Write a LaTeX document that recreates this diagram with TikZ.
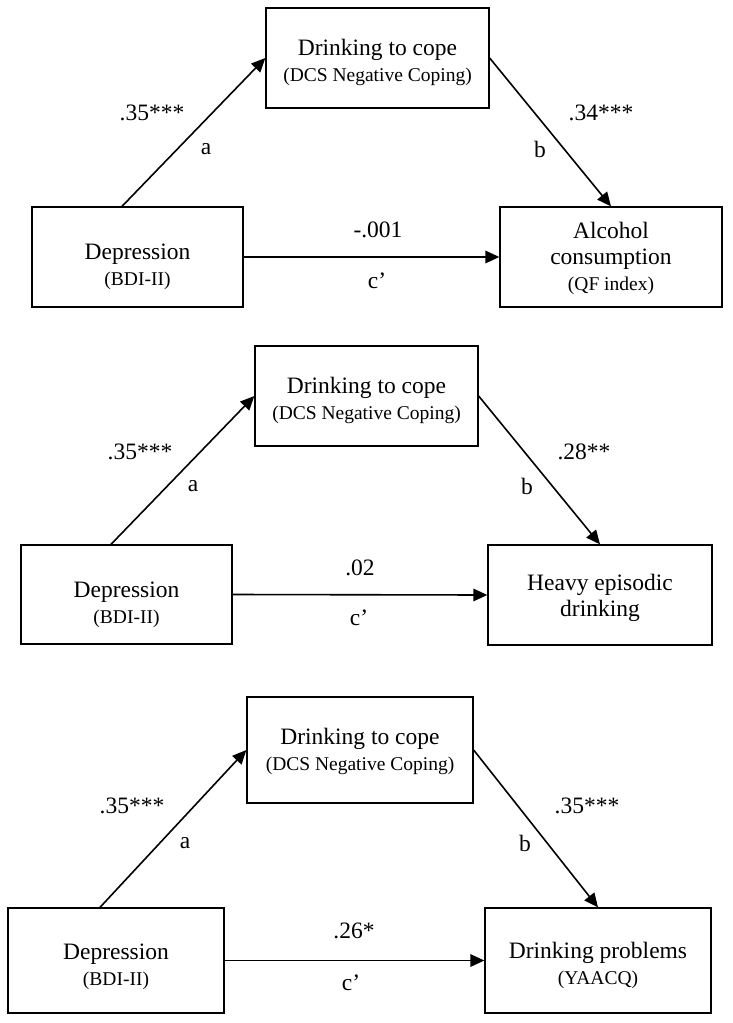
\documentclass[tikz,border=0pt]{standalone}
\usepackage{fontspec}
\setmainfont{Liberation Serif}
\usetikzlibrary{arrows.meta}
\newcommand{\smallsz}{\fontsize{19.5}{24}\selectfont}
\begin{document}
\begin{tikzpicture}[x=1pt,y=-1pt,
  box/.style={draw, line width=1.3pt, rectangle, inner sep=0pt},
  txt/.style={align=center, inner sep=0pt, font=\fontsize{23.5}{26}\selectfont},
  lbl/.style={font=\fontsize{23.5}{26}\selectfont, inner sep=0pt},
  conn/.style={draw, line width=1.6pt, -{Triangle[length=14pt,width=12.5pt]}}
]
\useasboundingbox (0,0) rectangle (732,1023);

% ---------- Panel 1 ----------
\node[box, minimum width=223pt, minimum height=100pt] (T1) at (377.5,58) {};
\node[txt] (T1t) at ([yshift=-4pt]T1.center)
  {Drinking to cope\\{\smallsz (DCS Negative Coping)}};
\node[box, minimum width=211pt, minimum height=100pt] (L1) at (137.5,257) {};
\node[txt] (L1t) at ([yshift=-10pt]L1.center) {Depression\\{\smallsz (BDI-II)}};
\node[box, minimum width=222pt, minimum height=100pt] (R1) at (611,257) {};
\node[txt] (R1t) at ([yshift=-1pt]R1.center)
  {Alcohol\\consumption\\{\smallsz (QF index)}};
\draw[conn] ([xshift=-15.5pt]L1.north) -- (T1.west);
\draw[conn] (T1.east) -- (R1.north);
\draw[conn] (L1.east) -- (R1.west);
\node[lbl] (p1a) at (152,113) {.35***};
\node[lbl] (p1al) at (206,149) {a};
\node[lbl] (p1b) at (601,113) {.34***};
\node[lbl] (p1bl) at (540,149) {b};
\node[lbl] (p1c) at (378,230) {-.001};
\node[lbl] (p1cl) at (377,281) {c’};

% ---------- Panel 2 ----------
\node[box, minimum width=223pt, minimum height=100pt] (T2) at (366.5,396) {};
\node[txt] (T2t) at ([yshift=-4pt]T2.center)
  {Drinking to cope\\{\smallsz (DCS Negative Coping)}};
\node[box, minimum width=211pt, minimum height=99pt] (L2) at (126.5,594.5) {};
\node[txt] (L2t) at ([yshift=-10pt]L2.center) {Depression\\{\smallsz (BDI-II)}};
\node[box, minimum width=224pt, minimum height=100pt] (R2) at (600,595) {};
\node[txt] (R2t) at ([yshift=-3pt]R2.center) {Heavy episodic\\drinking};
\draw[conn] ([xshift=-15.5pt]L2.north) -- (T2.west);
\draw[conn] (T2.east) -- (R2.north);
\draw[conn] (L2.east) -- (R2.west);
\node[lbl] (p2a) at (140,452) {.35***};
\node[lbl] (p2al) at (193,486) {a};
\node[lbl] (p2b) at (584,452) {.28**};
\node[lbl] (p2bl) at (527,486) {b};
\node[lbl] (p2c) at (360,568) {.02};
\node[lbl] (p2cl) at (359,618) {c’};

% ---------- Panel 3 ----------
\node[box, minimum width=226pt, minimum height=106pt] (T3) at (360,750) {};
\node[txt] (T3t) at ([yshift=-1pt]T3.center)
  {Drinking to cope\\{\smallsz (DCS Negative Coping)}};
\node[box, minimum width=216pt, minimum height=105pt] (L3) at (116,960.5) {};
\node[txt] (L3t) at ([yshift=-6pt]L3.center) {Depression\\{\smallsz (BDI-II)}};
\node[box, minimum width=226pt, minimum height=105pt] (R3) at (598,960.5) {};
\node[txt] (R3t) at ([yshift=-5pt]R3.center)
  {Drinking problems\\{\smallsz (YAACQ)}};
\draw[conn] ([xshift=-16pt]L3.north) -- (T3.west);
\draw[conn] (T3.east) -- (R3.north);
\draw[conn] (L3.east) -- (R3.west);
\node[lbl] (p3a) at (132,806) {.35***};
\node[lbl] (p3al) at (185,843) {a};
\node[lbl] (p3b) at (587,806) {.35***};
\node[lbl] (p3bl) at (525,843) {b};
\node[lbl] (p3c) at (354,931) {.26*};
\node[lbl] (p3cl) at (351,983) {c’};
\end{tikzpicture}
\end{document}
